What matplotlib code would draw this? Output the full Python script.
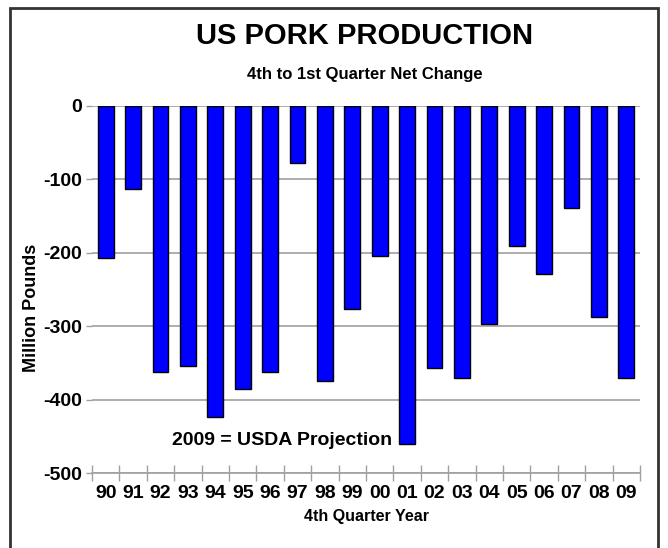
import matplotlib.pyplot as plt
from matplotlib.patches import Rectangle
import numpy as np

years = ["90", "91", "92", "93", "94", "95", "96", "97", "98", "99",
         "00", "01", "02", "03", "04", "05", "06", "07", "08", "09"]
net_change = [-207, -113, -363, -354, -424, -386, -363, -78, -374, -276,
              -205, -460, -357, -370, -297, -191, -229, -139, -287, -370]
y_ticks = [0, -100, -200, -300, -400, -500]

plt.rcParams["font.family"] = ["Liberation Sans", "DejaVu Sans"]
plt.rcParams["font.weight"] = "bold"

fig = plt.figure(figsize=(6.68, 5.48), dpi=100)
ax = fig.add_axes([92 / 668, 1 - 473 / 548, 548 / 668, 367 / 548])

x = np.arange(len(years))
ax.bar(x, net_change, width=0.58, color="#0000FF", edgecolor="black",
       linewidth=1, zorder=3)

ax.set_xlim(-0.5, len(years) - 0.5)
ax.set_ylim(-500, 0)
ax.set_yticks(y_ticks)
ax.set_yticklabels([str(v) for v in y_ticks], fontsize=14, fontweight="bold")
ax.tick_params(axis="y", length=4, color="#A0A0A0", width=1, pad=3)
ax.grid(axis="y", color="#A0A0A0", linewidth=1.2, zorder=0)

ax.set_xticks(x)
ax.set_xticklabels(years, fontsize=14, fontweight="bold")
ax.set_xticks(np.arange(-0.5, len(years)), minor=True)
ax.tick_params(axis="x", which="major", length=0, pad=9)
ax.tick_params(axis="x", which="minor", length=12, direction="inout",
               color="#A0A0A0", width=1)

for side in ["left", "right", "top"]:
    ax.spines[side].set_visible(False)
ax.spines["bottom"].set_color("#A0A0A0")
ax.spines["bottom"].set_linewidth(1.2)

ax.set_xlabel("4th Quarter Year", fontsize=11.5, fontweight="bold", labelpad=5)
fig.text(32 / 668, 1 - 308 / 548, "Million Pounds", rotation=90,
         ha="center", va="center", fontsize=13, fontweight="bold")

ax.text(2.42, -456, "2009 = USDA Projection", fontsize=14, fontweight="bold",
        ha="left", va="center", zorder=4)

fig.text(365 / 668, 1 - 36 / 548, "US PORK PRODUCTION", ha="center",
         va="center", fontsize=21, fontweight="bold")
fig.text(365 / 668, 1 - 75 / 548, "4th to 1st Quarter Net Change", ha="center",
         va="center", fontsize=12, fontweight="bold")

# outer border around the chart
fig.patches.append(Rectangle((10 / 668, -0.05), 648 / 668, 1.05 - 8 / 548,
                             transform=fig.transFigure, fill=False,
                             edgecolor="#333333", linewidth=2))

fig.savefig("out.png", dpi=100)
